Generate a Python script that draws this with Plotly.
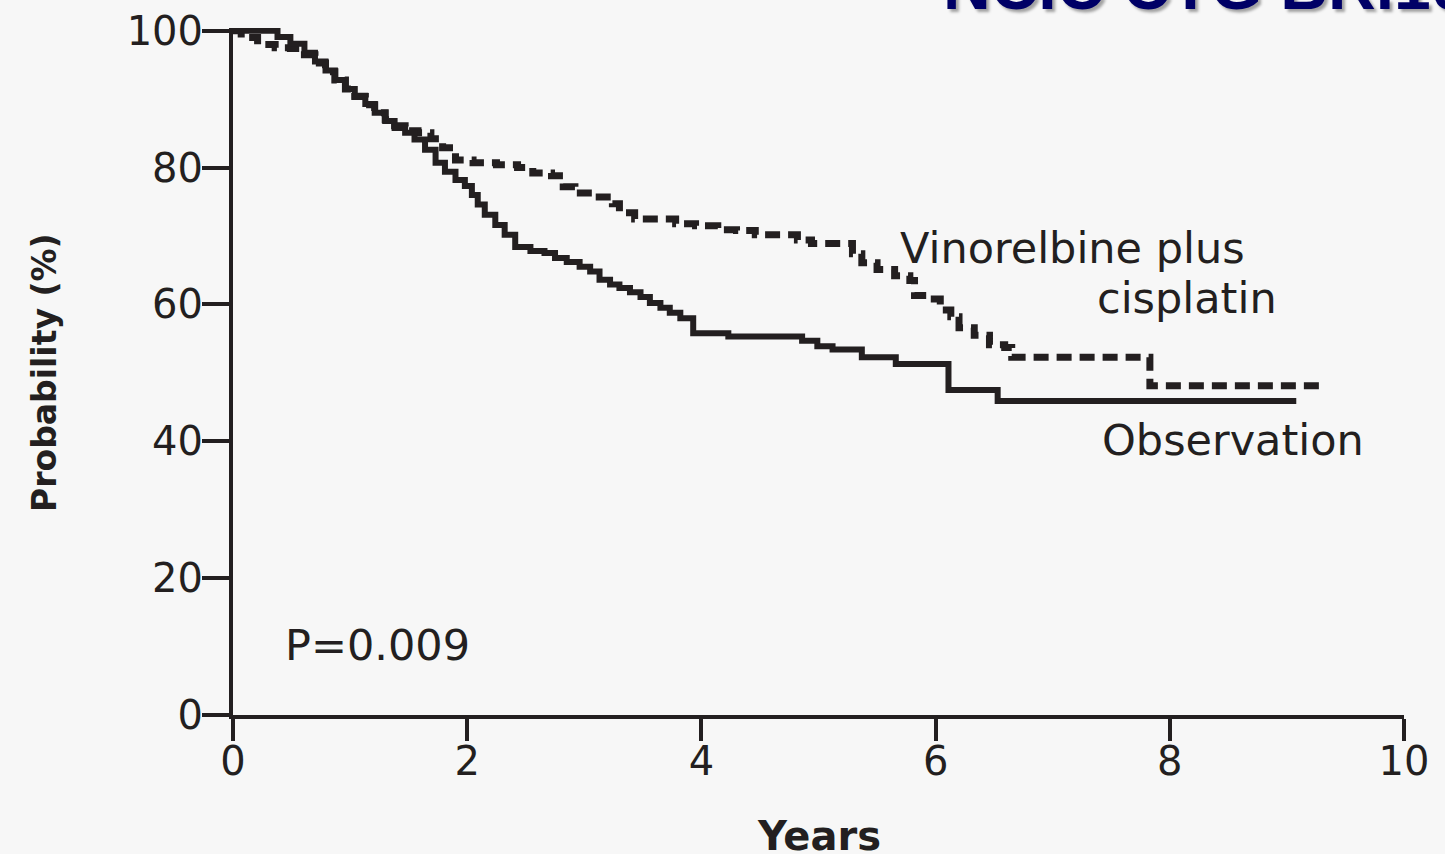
import plotly.graph_objects as go

# Kaplan-Meier overall survival, NCIC CTG BR.10
obs_years = [0.0, 0.30, 0.38, 0.49, 0.61, 0.70, 0.79, 0.87, 0.96, 1.04, 1.13, 1.21, 1.30,
             1.38, 1.47, 1.55, 1.64, 1.73, 1.81, 1.90, 1.98, 2.04, 2.09, 2.15, 2.24, 2.32,
             2.41, 2.54, 2.66, 2.75, 2.85, 2.96, 3.05, 3.13, 3.22, 3.30, 3.39, 3.48, 3.56,
             3.65, 3.73, 3.82, 3.93, 4.23, 4.86, 4.99, 5.12, 5.37, 5.66, 6.11, 6.53, 9.08]
obs_prob = [100.0, 100.0, 99.1, 98.1, 96.8, 95.5, 94.2, 92.8, 91.5, 90.5, 89.3, 88.0, 86.8,
            85.8, 85.1, 84.1, 82.6, 80.7, 79.4, 78.2, 77.3, 76.0, 74.6, 73.1, 71.6, 70.2,
            68.4, 67.8, 67.5, 66.8, 66.2, 65.5, 64.8, 63.6, 62.9, 62.4, 61.8, 61.1, 60.2,
            59.5, 58.8, 58.0, 55.8, 55.3, 54.7, 53.9, 53.4, 52.3, 51.3, 47.5, 45.9, 45.9]

chemo_years = [0.0, 0.07, 0.21, 0.36, 0.49, 0.61, 0.70, 0.79, 0.87, 0.96, 1.04, 1.13, 1.21,
               1.30, 1.38, 1.47, 1.58, 1.69, 1.79, 1.90, 2.05, 2.25, 2.43, 2.56, 2.72, 2.82,
               2.92, 3.08, 3.24, 3.30, 3.43, 3.78, 3.95, 4.14, 4.30, 4.46, 4.82, 4.94, 5.29,
               5.37, 5.50, 5.65, 5.78, 5.82, 5.94, 6.04, 6.13, 6.20, 6.33, 6.46, 6.59, 6.65,
               7.83, 9.31]
chemo_prob = [100.0, 99.0, 98.0, 97.5, 97.4, 96.5, 95.3, 94.0, 92.8, 91.5, 90.4, 89.2, 88.0,
              87.0, 86.1, 85.4, 85.1, 84.2, 82.9, 81.1, 80.7, 80.4, 80.0, 79.2, 78.8, 77.2,
              76.3, 75.7, 74.7, 73.4, 72.5, 71.8, 71.5, 70.9, 70.8, 70.2, 69.4, 68.9, 67.4,
              66.1, 65.1, 64.2, 63.5, 61.3, 60.8, 59.2, 58.2, 56.6, 55.5, 54.1, 53.7, 52.3,
              48.1, 48.1]

x_ticks = [0, 2, 4, 6, 8, 10]
y_ticks = [0, 20, 40, 60, 80, 100]

INK = "#231f20"
BG = "#f7f7f7"
FONT = "DejaVu Sans"

fig = go.Figure()
fig.add_trace(go.Scatter(
    x=chemo_years, y=chemo_prob, mode="lines", line_shape="hv",
    line=dict(color=INK, width=7, dash="15px,8px"),
    name="Vinorelbine plus cisplatin", hoverinfo="skip",
))
fig.add_trace(go.Scatter(
    x=obs_years, y=obs_prob, mode="lines", line_shape="hv",
    line=dict(color=INK, width=6),
    name="Observation", hoverinfo="skip",
))

text_font = dict(family=FONT, size=43, color=INK)
fig.add_annotation(x=5.68, y=68.3, xref="x", yref="y", text="Vinorelbine plus",
                   xanchor="left", yanchor="middle", showarrow=False, font=text_font)
fig.add_annotation(x=7.36, y=61.0, xref="x", yref="y", text="cisplatin",
                   xanchor="left", yanchor="middle", showarrow=False, font=text_font)
fig.add_annotation(x=7.40, y=40.2, xref="x", yref="y", text="Observation",
                   xanchor="left", yanchor="middle", showarrow=False, font=text_font)
fig.add_annotation(x=0.43, y=10.2, xref="x", yref="y", text="P=0.009",
                   xanchor="left", yanchor="middle", showarrow=False, font=text_font)

# axis titles
fig.add_annotation(x=-0.1605, y=0.498, xref="paper", yref="paper", text="<b>Probability (%)</b>",
                   textangle=-90, xanchor="center", yanchor="middle", showarrow=False,
                   font=dict(family=FONT, size=33, color=INK))
fig.add_annotation(x=0.5004, y=-0.1397, xref="paper", yref="paper", text="<b>Years</b>",
                   xanchor="center", yanchor="top", showarrow=False,
                   font=dict(family=FONT, size=40, color=INK))

# study heading
fig.add_annotation(x=0.6046, y=1.0044, xref="paper", yref="paper", text="<b>NCIC CTG BR.10</b>",
                   xanchor="left", yanchor="bottom", showarrow=False,
                   font=dict(family="Liberation Sans", size=66, color="#000066",
                             shadow="3px 3px 3px rgba(0,0,0,0.35)"))

fig.update_xaxes(range=[0, 10], tickvals=x_ticks, ticks="outside", ticklen=22, tickwidth=3.5,
                 tickcolor=INK, showline=True, linewidth=4, linecolor=INK, showgrid=False,
                 zeroline=False, ticklabelstandoff=-14,
                 tickfont=dict(family=FONT, size=40, color=INK))
fig.update_yaxes(range=[0, 100.4], tickvals=y_ticks, ticks="outside", ticklen=27, tickwidth=3.5,
                 tickcolor=INK, showline=True, linewidth=4, linecolor=INK, showgrid=False,
                 zeroline=False, ticklabelstandoff=-9,
                 tickfont=dict(family=FONT, size=40, color=INK))

fig.update_layout(
    width=1445, height=854,
    margin=dict(l=233, r=41, t=28, b=139, autoexpand=False),
    paper_bgcolor=BG, plot_bgcolor=BG,
    showlegend=False,
)

fig.write_html("out.html", config={"displayModeBar": False})
